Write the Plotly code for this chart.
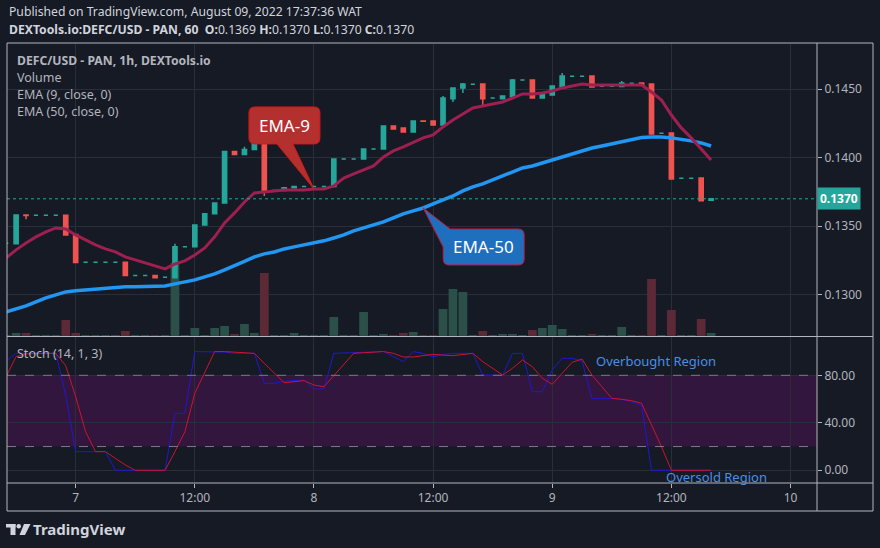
import pandas as pd
import plotly.graph_objects as go

# hourly candles, Aug 6 17:00 -> Aug 9 16:00
times = pd.date_range("2022-08-06 17:00", periods=72, freq="h")

opens = [0.13375, 0.13371, 0.13582, 0.13580, 0.13580, 0.13580, 0.13580, 0.13440, 0.13237, 0.13237,
         0.13237, 0.13237, 0.13237, 0.13140, 0.13140, 0.13140, 0.13128, 0.13124, 0.13350, 0.13350,
         0.13509, 0.13590, 0.13670, 0.14045, 0.14023, 0.14060, 0.14100, 0.13760, 0.13760, 0.13780,
         0.13790, 0.13790, 0.13790, 0.13790, 0.13991, 0.13991, 0.13991, 0.14064, 0.14064, 0.14232,
         0.14217, 0.14188, 0.14268, 0.14269, 0.14240, 0.14430, 0.14510, 0.14536, 0.14539, 0.14436,
         0.14430, 0.14445, 0.14568, 0.14568, 0.14436, 0.14458, 0.14517, 0.14595, 0.14595, 0.14597,
         0.14522, 0.14522, 0.14520, 0.14544, 0.14546, 0.14539, 0.14179, 0.14181, 0.13850, 0.13850,
         0.13852, 0.13690]
highs = [0.13375, 0.13582, 0.13582, 0.13580, 0.13580, 0.13580, 0.13580, 0.13440, 0.13237, 0.13237,
         0.13237, 0.13237, 0.13237, 0.13140, 0.13140, 0.13140, 0.13128, 0.13371, 0.13350, 0.13509,
         0.13590, 0.13670, 0.14045, 0.14045, 0.14080, 0.14100, 0.14100, 0.13760, 0.13780, 0.13790,
         0.13790, 0.13790, 0.13790, 0.13991, 0.13991, 0.13991, 0.14064, 0.14064, 0.14232, 0.14232,
         0.14217, 0.14269, 0.14268, 0.14269, 0.14450, 0.14515, 0.14546, 0.14536, 0.14539, 0.14436,
         0.14450, 0.14575, 0.14568, 0.14568, 0.14465, 0.14524, 0.14619, 0.14595, 0.14595, 0.14597,
         0.14522, 0.14522, 0.14560, 0.14544, 0.14546, 0.14539, 0.14179, 0.14181, 0.13850, 0.13850,
         0.13852, 0.13700]
lows = [0.13375, 0.13371, 0.13550, 0.13580, 0.13580, 0.13580, 0.13436, 0.13235, 0.13237, 0.13237,
        0.13237, 0.13237, 0.13140, 0.13140, 0.13140, 0.13124, 0.13128, 0.13124, 0.13350, 0.13350,
        0.13509, 0.13590, 0.13670, 0.14023, 0.14023, 0.14060, 0.13720, 0.13760, 0.13760, 0.13780,
        0.13790, 0.13790, 0.13790, 0.13790, 0.13991, 0.13991, 0.13991, 0.14064, 0.14064, 0.14210,
        0.14188, 0.14188, 0.14266, 0.14239, 0.14240, 0.14407, 0.14473, 0.14536, 0.14380, 0.14436,
        0.14430, 0.14445, 0.14568, 0.14436, 0.14436, 0.14458, 0.14517, 0.14595, 0.14595, 0.14517,
        0.14522, 0.14522, 0.14520, 0.14544, 0.14529, 0.14174, 0.14179, 0.13845, 0.13850, 0.13850,
        0.13685, 0.13690]
closes = [0.13375, 0.13582, 0.13578, 0.13580, 0.13580, 0.13580, 0.13436, 0.13235, 0.13237, 0.13237,
          0.13237, 0.13237, 0.13140, 0.13140, 0.13140, 0.13124, 0.13128, 0.13349, 0.13350, 0.13509,
          0.13590, 0.13670, 0.14045, 0.14023, 0.14060, 0.14100, 0.13758, 0.13760, 0.13780, 0.13790,
          0.13790, 0.13790, 0.13790, 0.13991, 0.13991, 0.13991, 0.14064, 0.14064, 0.14232, 0.14210,
          0.14188, 0.14269, 0.14266, 0.14239, 0.14436, 0.14510, 0.14539, 0.14536, 0.14430, 0.14436,
          0.14450, 0.14568, 0.14568, 0.14436, 0.14465, 0.14524, 0.14597, 0.14595, 0.14595, 0.14517,
          0.14522, 0.14522, 0.14546, 0.14544, 0.14529, 0.14174, 0.14179, 0.13845, 0.13850, 0.13850,
          0.13685, 0.13700]
volume = [1, 3, 3, 1, 1, 1, 16, 3, 1, 1, 1, 1, 5, 1, 1, 1, 1, 73, 1, 8, 1, 8, 10, 2, 12, 3,
          63, 1, 1, 3, 1, 1, 1, 19, 1, 1, 24, 1, 2, 1, 3, 4, 1, 1, 27, 47, 44, 1, 5, 1, 2, 2,
          1, 6, 8, 11, 7, 1, 1, 2, 1, 1, 9, 1, 1, 57, 1, 26, 1, 1, 17, 3]
ema9 = [0.13268, 0.13327, 0.13378, 0.13422, 0.13458, 0.13487, 0.13480, 0.13436, 0.13400, 0.13363,
        0.13334, 0.13312, 0.13276, 0.13254, 0.13232, 0.13210, 0.13188, 0.13225, 0.13247, 0.13290,
        0.13341, 0.13422, 0.13524, 0.13597, 0.13677, 0.13743, 0.13750, 0.13758, 0.13765, 0.13765,
        0.13765, 0.13772, 0.13772, 0.13794, 0.13852, 0.13882, 0.13911, 0.13940, 0.14006, 0.14050,
        0.14079, 0.14115, 0.14145, 0.14166, 0.14225, 0.14276, 0.14320, 0.14363, 0.14378, 0.14393,
        0.14407, 0.14436, 0.14466, 0.14466, 0.14473, 0.14488, 0.14510, 0.14524, 0.14539, 0.14531,
        0.14531, 0.14531, 0.14531, 0.14531, 0.14531, 0.14480, 0.14422, 0.14312, 0.14218, 0.14145,
        0.14064, 0.13984]
ema50 = [0.12874, 0.12896, 0.12918, 0.12947, 0.12977, 0.12998, 0.13020, 0.13028, 0.13035, 0.13042,
         0.13049, 0.13053, 0.13057, 0.13057, 0.13060, 0.13064, 0.13064, 0.13079, 0.13093, 0.13108,
         0.13130, 0.13152, 0.13181, 0.13210, 0.13243, 0.13276, 0.13298, 0.13312, 0.13334, 0.13349,
         0.13363, 0.13378, 0.13393, 0.13414, 0.13436, 0.13466, 0.13487, 0.13509, 0.13531, 0.13560,
         0.13590, 0.13612, 0.13633, 0.13663, 0.13692, 0.13721, 0.13758, 0.13787, 0.13809, 0.13838,
         0.13867, 0.13896, 0.13925, 0.13940, 0.13962, 0.13984, 0.14006, 0.14028, 0.14050, 0.14071,
         0.14086, 0.14101, 0.14115, 0.14130, 0.14148, 0.14152, 0.14152, 0.14145, 0.14137, 0.14123,
         0.14108, 0.14086]
stoch_k = [92, 98.5, 98.5, 98.5, 98.5, 98.7, 63, 15.7, 15.7, 15.7, 15.7, 0, 0, 0, 0, 0, 0, 48, 48,
           100, 100, 100, 99.5, 98.5, 98.5, 98.5, 73.2, 73.2, 75, 75.5, 76, 68.5, 68.5, 98.5, 98.8,
           99.3, 99.6, 99.8, 100, 95.7, 91.5, 100, 98.5, 95.5, 97.5, 98.5, 98.5, 98.5, 80.2, 80.2,
           80.2, 98.5, 98.5, 66.2, 66.2, 84.5, 94.3, 94.3, 92, 60.6, 60.6, 60.6, 59.5, 57.8, 54.4,
           0, 0, 0, 0, 0, 0, 0]
stoch_d = [79, 95.7, 98, 98.5, 98.5, 98.5, 88, 62, 32.5, 15.7, 15.7, 10.1, 4.5, 0, 0, 0, 0, 15.7,
           32.5, 64.8, 83, 100, 100, 99.5, 98.5, 98.5, 90, 81.7, 73.8, 74.6, 75.5, 71.8, 70.4, 79.7,
           89.3, 98.5, 99, 99.5, 100, 98.5, 95.4, 95.4, 96.5, 97.7, 97, 96.5, 97.5, 98.5, 91.5, 85.9,
           80.2, 85.9, 92.9, 87.2, 77.5, 72.4, 81.7, 90.9, 93.7, 80.2, 70.4, 60.6, 59.8, 58.6, 56.4,
           38.1, 19.9, 0, 0, 0, 0, 0]

day_ticks = ["2022-08-07 00:00", "2022-08-07 12:00", "2022-08-08 00:00", "2022-08-08 12:00",
             "2022-08-09 00:00", "2022-08-09 12:00", "2022-08-10 00:00"]
day_labels = ["7", "12:00", "8", "12:00", "9", "12:00", "10"]
price_ticks = [0.1300, 0.1350, 0.1400, 0.1450]
stoch_ticks = [0, 40, 80]

BG = "#161a25"
GRID = "#2a2e39"
FRAME = "#b2b5be"
TXT = "#b2b5be"
UP = "#26a69a"
DOWN = "#ef5350"
FONT = "Noto Sans"

# plot area in pixels: x 7..817, y 43..483
def fx(px):
    return (px - 7) / 810

def fy(py):
    return (483 - py) / 440

is_up = [c >= o for o, c in zip(opens, closes)]
is_up[42] = False  # red doji


def pick(vals, mask):
    return [v if m else None for v, m in zip(vals, mask)]


is_down = [not u for u in is_up]

fig = go.Figure()

fig.add_trace(go.Bar(x=times, y=volume, xaxis="x", yaxis="y",
                     marker=dict(color=["#2b5049" if u else "#5c2a37" for u in is_up], line_width=0),
                     hoverinfo="skip"))

for mask, col in [(is_up, UP), (is_down, DOWN)]:
    fig.add_trace(go.Candlestick(
        x=times, open=pick(opens, mask), high=pick(highs, mask),
        low=pick(lows, mask), close=pick(closes, mask),
        xaxis="x", yaxis="y3",
        increasing=dict(line=dict(color=col, width=1.5), fillcolor=col),
        decreasing=dict(line=dict(color=col, width=1.5), fillcolor=col),
        whiskerwidth=0, hoverinfo="skip"))

fig.add_trace(go.Scatter(x=times, y=ema50, mode="lines", xaxis="x", yaxis="y3",
                         line=dict(color="#2196f3", width=3.5), hoverinfo="skip"))
fig.add_trace(go.Scatter(x=times, y=ema9, mode="lines", xaxis="x", yaxis="y3",
                         line=dict(color="#9e1f50", width=3), hoverinfo="skip"))

fig.add_trace(go.Scatter(x=times, y=stoch_k, mode="lines", xaxis="x2", yaxis="y2",
                         line=dict(color="#2018d0", width=1), hoverinfo="skip"))
fig.add_trace(go.Scatter(x=times, y=stoch_d, mode="lines", xaxis="x2", yaxis="y2",
                         line=dict(color="#d0122e", width=1), hoverinfo="skip"))

xr = ["2022-08-06 17:05", "2022-08-10 02:40"]
tickfont = dict(family=FONT, size=12, color=TXT)

fig.update_layout(
    width=880, height=548,
    margin=dict(l=7, r=63, t=43, b=65),
    paper_bgcolor=BG, plot_bgcolor=BG,
    showlegend=False,
    boxgap=0.4, bargap=0.12,
    font=dict(family=FONT, color=TXT),
    xaxis=dict(domain=[0, 1], anchor="y", range=xr, tickvals=day_ticks, showticklabels=False,
               showgrid=True, gridcolor=GRID, zeroline=False, rangeslider=dict(visible=False),
               ticks=""),
    xaxis2=dict(domain=[0, 1], anchor="y2", matches="x", tickvals=day_ticks, ticktext=day_labels,
                showgrid=True, gridcolor=GRID, zeroline=False, ticks="outside", ticklen=4,
                tickcolor=FRAME, tickfont=tickfont),
    yaxis=dict(domain=[fy(336), 1], anchor="x", range=[0, max(volume) * 293 / 73],
               visible=False, fixedrange=True),
    yaxis3=dict(overlaying="y", anchor="x", side="right", range=[0.12698, 0.14838],
                tickvals=price_ticks, ticktext=["%.4f" % v for v in price_ticks],
                showgrid=True, gridcolor=GRID, zeroline=False, ticks="outside", ticklen=4,
                tickcolor=FRAME, tickfont=tickfont),
    yaxis2=dict(domain=[0, fy(337)], anchor="x2", side="right", range=[-10.7, 112.25],
                tickvals=stoch_ticks, ticktext=["%.2f" % v for v in stoch_ticks],
                showgrid=True, gridcolor=GRID, zeroline=False, ticks="outside", ticklen=4,
                tickcolor=FRAME, tickfont=tickfont),
)

shapes = []
# stochastic band + bounds
shapes.append(dict(type="rect", xref="paper", yref="y2", x0=0, x1=1, y0=20, y1=80,
                   fillcolor="#32163e", line_width=0, layer="below"))
for lvl in (80, 20):
    shapes.append(dict(type="line", xref="paper", yref="y2", x0=0, x1=1, y0=lvl, y1=lvl,
                       line=dict(color="#787b86", width=1, dash="dash")))
# last price line
shapes.append(dict(type="line", xref="paper", yref="y3", x0=0, x1=1, y0=closes[-1], y1=closes[-1],
                   line=dict(color=UP, width=1, dash="dot")))

# callouts (pixel offsets from the point they point to)
i9, i50 = 31, 42
shapes.append(dict(type="path", xref="x", yref="y3", xsizemode="pixel", ysizemode="pixel",
                   xanchor=times[i9].strftime("%Y-%m-%d %H:%M"), yanchor=ema9[i9],
                   path="M -59,82 L 0,82 Q 6,82 6,76 L 6,51 Q 6,45 0,45 L -21,45 L 0,0 L -37,45 "
                        "L -59,45 Q -65,45 -65,51 L -65,76 Q -65,82 -59,82 Z",
                   fillcolor="#b3302e", line=dict(color="#d41818", width=1)))
shapes.append(dict(type="path", xref="x", yref="y3", xsizemode="pixel", ysizemode="pixel",
                   xanchor=times[i50].strftime("%Y-%m-%d %H:%M"), yanchor=ema50[i50],
                   path="M 27,-21 L 95,-21 Q 101,-21 101,-27 L 101,-51 Q 101,-57 95,-57 "
                        "L 26,-57 Q 20,-57 20,-51 L 20,-39 L 0,0 Z",
                   fillcolor="#1f6fbf", line=dict(color="#c2183a", width=1)))

# frame
fl = dict(color=FRAME, width=1)
shapes += [
    dict(type="rect", xref="paper", yref="paper", x0=0, x1=fx(873), y0=fy(511), y1=1, line=fl),
    dict(type="line", xref="paper", yref="paper", x0=1, x1=1, y0=fy(511), y1=1, line=fl),
    dict(type="line", xref="paper", yref="paper", x0=0, x1=fx(873), y0=0, y1=0, line=fl),
    dict(type="line", xref="paper", yref="paper", x0=0, x1=fx(873), y0=fy(336.5), y1=fy(336.5), line=fl),
]
# TradingView logo
logo = "#d1d4dc"
shapes += [
    dict(type="rect", xref="paper", yref="paper", x0=fx(6), x1=fx(15.5), y0=fy(527.5), y1=fy(524),
         fillcolor=logo, line_width=0),
    dict(type="rect", xref="paper", yref="paper", x0=fx(10.5), x1=fx(15.5), y0=fy(535), y1=fy(524),
         fillcolor=logo, line_width=0),
    dict(type="circle", xref="paper", yref="paper", x0=fx(16.5), x1=fx(21), y0=fy(528.5), y1=fy(524),
         fillcolor=logo, line_width=0),
    dict(type="path", xref="paper", yref="paper",
         path="M %f,%f L %f,%f L %f,%f L %f,%f Z" % (fx(24), fy(524), fx(30.5), fy(524),
                                                   fx(25), fy(535), fx(19.5), fy(535)),
         fillcolor=logo, line_width=0),
]
fig.update_layout(shapes=shapes)

ann = []


def text(x, y, s, size=13, color=TXT, anchor="left"):
    ann.append(dict(xref="paper", yref="paper", x=fx(x), y=fy(y), text=s, showarrow=False,
                    xanchor=anchor, yanchor="middle", font=dict(family=FONT, size=size, color=color)))


text(7, 12, "Published on TradingView.com, August 09, 2022 17:37:36 WAT", 12.2, "#d1d4dc")
text(7, 29, "<b>DEXTools.io:DEFC/USD - PAN, 60  O:</b>%.4f <b>H:</b>%.4f <b>L:</b>%.4f <b>C:</b>%.4f"
     % (opens[-1], highs[-1], lows[-1] + 0.0001, closes[-1]), 12.2, "#d1d4dc")
text(15, 60, "<b>DEFC/USD - PAN, 1h, DEXTools.io</b>", 12.2)
text(15, 77, "Volume", 12.5)
text(15, 94, "EMA (9, close, 0)", 12.5)
text(15, 111, "EMA (50, close, 0)", 12.5)
text(15, 353, "Stoch (14, 1, 3)", 12.5)
text(594, 361, "Overbought Region", 13, "#4a8fe3")
text(664, 477, "Oversold Region", 13, "#4a8fe3")
text(31, 529, "<b>TradingView</b>", 15, "#d1d4dc")

ann.append(dict(x=times[i9], y=ema9[i9], xref="x", yref="y3", text="EMA-9", showarrow=False,
                xshift=-29.5, yshift=63.5, font=dict(family=FONT, size=17, color="#ffffff")))
ann.append(dict(x=times[i50], y=ema50[i50], xref="x", yref="y3", text="EMA-50", showarrow=False,
                xshift=60.5, yshift=-39, font=dict(family=FONT, size=17, color="#ffffff")))
ann.append(dict(xref="paper", x=1, yref="y3", y=closes[-1], xanchor="left", yanchor="middle",
                text="<b>%.4f</b>" % closes[-1], showarrow=False, bgcolor=UP, borderpad=2,
                font=dict(family=FONT, size=12, color="#ffffff")))
fig.update_layout(annotations=ann)

# the page's default body margin would shift the chart by 8px
fig.write_html("out.html", config={"displayModeBar": False},
               post_script="document.body.style.margin='0';")
